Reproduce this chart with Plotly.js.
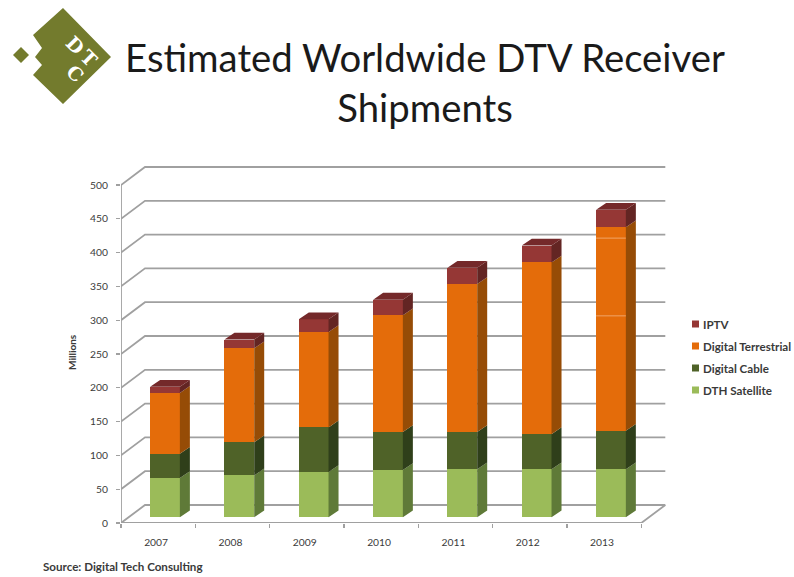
<!DOCTYPE html>
<html>
<head>
<meta charset="utf-8">
<script src="https://cdn.plot.ly/plotly-3.0.1.min.js"></script>
<style>html,body{margin:0;padding:0;background:#fff}</style>
</head>
<body>
<div id="chart" style="width:794px;height:577px"></div>
<script>
const years = ['2007','2008','2009','2010','2011','2012','2013'];
const dthSatellite = [58,62,67,70,71,71,71];
const digitalCable = [36,49,66,56,55,52,57];
const digitalTerrestrial = [90,139,141,173,219,254,301];
const iptv = [9,13,19,23,24,25,26];
const yTicks = [0,50,100,150,200,250,300,350,400,450,500];
const streaks2013 = [298,413];

const W = 794, H = 577;
const L = 121, R = 670, T = 160, B = 523;
const pxPerCat = 74.33, pxPerUnit = 0.676;
const px = v => (v - L) / (R - L);
const py = v => (B - v) / (B - T);
const idx = years.map((_, i) => i);

// Wall depth and bar depth, in axis units
const wallDx = 24 / pxPerCat, wallDy = 18 / pxPerUnit;
const barHalf = 0.2, barDx = 10 / pxPerCat, barDy = 6.8 / pxPerUnit;
const nCat = years.length;

const xMax = (R - L) / pxPerCat, yMax = (B - T) / pxPerUnit;
const barShiftY = 5.7 / pxPerUnit;
const x2Min = (L - 165) / pxPerCat, x2Max = (R - 165) / pxPerCat;

const series = [
  {name:'DTH Satellite', v:dthSatellite, c:'#9bbb59', s:'#5f7a38'},
  {name:'Digital Cable', v:digitalCable, c:'#4f6228', s:'#2f3f1a'},
  {name:'Digital Terrestrial', v:digitalTerrestrial, c:'#e46c0a', s:'#964c06'},
  {name:'IPTV', v:iptv, c:'#953735', s:'#632523'}
];

const traces = [];
// Wall and floor lines
const gx = [], gy = [];
yTicks.forEach(v => {
  gx.push(0, wallDx, nCat + wallDx, null);
  gy.push(v, v + wallDy, v + wallDy, null);
});
gx.push(0, 0, null, 0, nCat, nCat + wallDx);
gy.push(0, 500, null, 0, 0, wallDy);
traces.push({type:'scatter', mode:'lines', x:gx, y:gy, xaxis:'x', yaxis:'y',
  line:{color:'#a0a0a0', width:1.8}, hoverinfo:'skip', showlegend:false});

// Front faces
series.forEach(s => traces.push({type:'bar', name:s.name, x:idx, y:s.v, xaxis:'x2', yaxis:'y2',
  width:barHalf * 2, marker:{color:s.c, line:{width:0}}, showlegend:false}));

// Side faces
const cum = years.map(() => 0);
series.forEach(s => {
  const xs = [], ys = [];
  idx.forEach(i => {
    const a = cum[i], b = a + s.v[i];
    const x0 = i + barHalf;
    xs.push(x0, x0 + barDx, x0 + barDx, x0, x0, null);
    ys.push(a, a + barDy, b + barDy, b, a, null);
    cum[i] = b;
  });
  traces.push({type:'scatter', mode:'lines', x:xs, y:ys, xaxis:'x2', yaxis:'y2', fill:'toself',
    fillcolor:s.s, line:{width:0, color:s.s}, hoverinfo:'skip', showlegend:false});
});

// Top faces
const tx = [], ty = [];
idx.forEach(i => {
  tx.push(i - barHalf, i + barHalf, i + barHalf + barDx, i - barHalf + barDx, i - barHalf, null);
  ty.push(cum[i], cum[i], cum[i] + barDy, cum[i] + barDy, cum[i], null);
});
traces.push({type:'scatter', mode:'lines', x:tx, y:ty, xaxis:'x2', yaxis:'y2', fill:'toself',
  fillcolor:'#74292a', line:{width:0, color:'#74292a'}, hoverinfo:'skip', showlegend:false});

// Pale streaks across the last bar
const sx = [], sy = [];
streaks2013.forEach(v => {
  sx.push(6 - barHalf, 6 + barHalf, null);
  sy.push(v, v, null);
});
traces.push({type:'scatter', mode:'lines', x:sx, y:sy, xaxis:'x2', yaxis:'y2',
  line:{color:'#f0a468', width:1}, hoverinfo:'skip', showlegend:false});

const labelFont = 'Lato, "Open Sans", sans-serif';
const textCol = '#3a3a3a';
const shapes = [], annotations = [];

// Legend
const legendRows = [
  {name:'IPTV', c:'#953735', y:324},
  {name:'Digital Terrestrial', c:'#e46c0a', y:346},
  {name:'Digital Cable', c:'#4f6228', y:368},
  {name:'DTH Satellite', c:'#9bbb59', y:390}
];
legendRows.forEach(r => {
  shapes.push({type:'rect', xref:'paper', yref:'paper', x0:px(692), x1:px(699), y0:py(r.y - 3.5), y1:py(r.y + 3.5),
    fillcolor:r.c, line:{width:0}});
  annotations.push({text:'<b>' + r.name + '</b>', xref:'paper', yref:'paper', x:px(701), y:py(r.y),
    xanchor:'left', yanchor:'middle', showarrow:false, font:{family:labelFont, size:11.6, color:textCol}});
});

// Logo
const logoColor = '#737b2d';
const poly = pts => 'M' + pts.map(p => px(p[0]) + ',' + py(p[1])).join('L') + 'Z';
shapes.push({type:'path', xref:'paper', yref:'paper', fillcolor:logoColor, line:{width:0},
  path:poly([[63,8],[111,57],[63,104],[33,75],[42,65],[35,57],[42,48],[33,35]])});
shapes.push({type:'path', xref:'paper', yref:'paper', fillcolor:logoColor, line:{width:0},
  path:poly([[21,47],[29,55],[21,63],[13,55]])});
[['D',75,45],['T',89,58],['C',75,73]].forEach(l => {
  annotations.push({text:'<b>' + l[0] + '</b>', xref:'paper', yref:'paper', x:px(l[1]), y:py(l[2]),
    xanchor:'center', yanchor:'middle', showarrow:false, textangle:45,
    font:{family:'"DejaVu Serif", serif', size:19, color:'#ffffff'}});
});

// Source and axis caption
annotations.push({text:'<b>Source: Digital Tech Consulting</b>', xref:'paper', yref:'paper', x:px(40.5), y:py(566),
  xanchor:'left', yanchor:'middle', showarrow:false, font:{family:labelFont, size:11.6, color:textCol}});
annotations.push({text:'<b>Millions</b>', xref:'paper', yref:'paper', x:px(72), y:py(352),
  xanchor:'center', yanchor:'middle', textangle:-90, showarrow:false, font:{family:labelFont, size:10, color:textCol}});

const layout = {
  width:W, height:H, autosize:false,
  paper_bgcolor:'#ffffff', plot_bgcolor:'rgba(0,0,0,0)',
  margin:{l:L, r:W - R, t:T, b:H - B, pad:0},
  showlegend:false, barmode:'stack', hovermode:false,
  title:{text:'Estimated Worldwide DTV Receiver<br>Shipments', x:425 / W, xanchor:'center', yref:'container',
    y:1 - 72 / H, yanchor:'top', font:{family:labelFont, size:38.3, color:'#1a1a1a'}},
  xaxis:{range:[0, xMax], tickmode:'array', tickvals:idx.concat([nCat]), ticktext:idx.concat([nCat]).map(() => ''),
    ticks:'outside', ticklen:4, tickcolor:'#a0a0a0', tickwidth:1.2, showgrid:false, zeroline:false, showline:false, fixedrange:true},
  yaxis:{range:[0, yMax], tickmode:'array', tickvals:yTicks, ticktext:yTicks.map(String),
    ticks:'outside', ticklen:4, tickcolor:'#a0a0a0', tickwidth:1.2, ticklabelstandoff:6, showgrid:false, zeroline:false, showline:false, fixedrange:true,
    tickfont:{family:labelFont, size:10.3, color:textCol}},
  xaxis2:{overlaying:'x', anchor:'y2', side:'bottom', range:[x2Min, x2Max], tickmode:'array',
    tickvals:idx.map(i => i - 0.12), ticktext:years, ticks:'outside', ticklen:10, tickcolor:'rgba(0,0,0,0)',
    showgrid:false, zeroline:false, showline:false, fixedrange:true,
    tickfont:{family:labelFont, size:10.3, color:textCol}},
  yaxis2:{overlaying:'y', anchor:'x2', range:[-barShiftY, yMax - barShiftY], showticklabels:false, ticks:'',
    showgrid:false, zeroline:false, showline:false, fixedrange:true},
  shapes:shapes, annotations:annotations
};
Plotly.newPlot('chart', traces, layout, {displayModeBar:false, staticPlot:true});
</script>
</body>
</html>
